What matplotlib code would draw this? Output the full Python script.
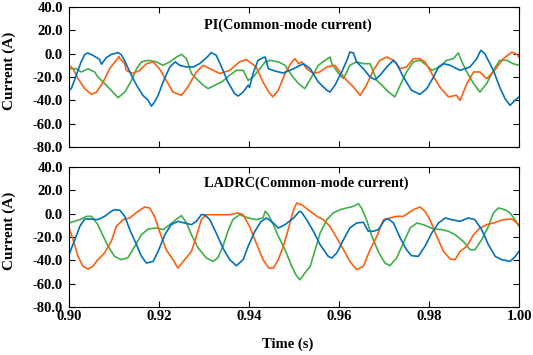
import matplotlib
matplotlib.use("Agg")
import matplotlib.pyplot as plt

plt.rcParams['font.family'] = ['Liberation Serif', 'DejaVu Serif']
plt.rcParams['font.weight'] = 'bold'

# ------------------------------------------------------------
# Datos (tiempo en s, corriente en A)
# ------------------------------------------------------------
# Panel superior: PI
pi_blue_t = [0.9000, 0.9005, 0.9016, 0.9027, 0.9035, 0.9042, 0.9053, 0.9068, 0.9072, 0.9076, 0.9083,
             0.9094, 0.9109, 0.9116, 0.9124, 0.9135, 0.9150, 0.9164, 0.9176, 0.9183, 0.9190, 0.9198,
             0.9209, 0.9224, 0.9236, 0.9246, 0.9261, 0.9276, 0.9290, 0.9307, 0.9316, 0.9327, 0.9339,
             0.9353, 0.9368, 0.9376, 0.9387, 0.9398, 0.9401, 0.9409, 0.9420, 0.9431, 0.9436, 0.9443,
             0.9458, 0.9476, 0.9499, 0.9521, 0.9536, 0.9554, 0.9573, 0.9580, 0.9591, 0.9606, 0.9619,
             0.9624, 0.9632, 0.9639, 0.9654, 0.9669, 0.9680, 0.9691, 0.9706, 0.9721, 0.9728, 0.9743,
             0.9761, 0.9780, 0.9795, 0.9810, 0.9821, 0.9832, 0.9847, 0.9869, 0.9891, 0.9906, 0.9915,
             0.9924, 0.9943, 0.9957, 0.9969, 0.9980, 0.9991, 1.0000]
pi_blue = [-31.4, -30.0, -18.6, -7.0, -0.6, 0.6, -1.4, -5.0, -9.0, -7.0, -3.4,
           -0.6, 0.9, -0.9, -6.3, -15.7, -27.0, -35.7, -40.0, -45.0, -41.4, -35.7,
           -24.3, -11.4, -7.0, -10.0, -11.4, -11.4, -8.6, -2.9, 0.9, -1.4, -11.4,
           -24.3, -34.3, -36.3, -32.9, -27.0, -29.0, -17.0, -5.7, -3.4, -2.9, -12.9,
           -14.9, -16.6, -12.9, -8.6, -12.9, -24.3, -31.4, -32.9, -27.0, -15.7, -4.3,
           1.4, 0.6, -7.0, -12.9, -20.0, -22.3, -18.6, -11.4, -5.7, -8.6, -20.0,
           -31.4, -34.9, -30.0, -20.0, -11.4, -8.6, -10.0, -14.3, -11.4, -4.3, 2.9,
           0.0, -14.3, -28.6, -38.6, -44.3, -40.0, -37.0]

pi_orange_t = [0.9000, 0.9009, 0.9020, 0.9035, 0.9050, 0.9061, 0.9076, 0.9090, 0.9105, 0.9111, 0.9113,
               0.9124, 0.9127, 0.9142, 0.9157, 0.9172, 0.9187, 0.9201, 0.9216, 0.9231, 0.9250, 0.9264,
               0.9283, 0.9298, 0.9313, 0.9335, 0.9357, 0.9379, 0.9394, 0.9416, 0.9431, 0.9444, 0.9453,
               0.9465, 0.9480, 0.9495, 0.9502, 0.9510, 0.9517, 0.9528, 0.9543, 0.9557, 0.9573, 0.9591,
               0.9602, 0.9617, 0.9632, 0.9647, 0.9661, 0.9676, 0.9691, 0.9706, 0.9721, 0.9736, 0.9750,
               0.9765, 0.9780, 0.9791, 0.9806, 0.9824, 0.9843, 0.9861, 0.9869, 0.9884, 0.9899, 0.9913,
               0.9928, 0.9943, 0.9965, 0.9984, 0.9995, 1.0000]
pi_orange = [-10.0, -12.9, -21.4, -30.0, -34.9, -32.9, -24.3, -12.9, -5.7, -2.5, -4.3,
             -8.6, -14.3, -17.0, -14.3, -8.6, -7.0, -12.9, -22.9, -32.9, -35.7, -28.6,
             -15.7, -10.0, -12.9, -17.0, -14.3, -7.0, -5.0, -11.4, -24.3, -33.0, -37.0,
             -31.4, -17.0, -7.0, -4.3, -8.6, -7.0, -12.9, -17.0, -15.7, -11.4, -10.0,
             -15.7, -22.9, -28.6, -35.7, -27.0, -14.3, -5.7, -2.9, -5.7, -12.9, -11.4,
             -4.3, -4.3, -7.0, -17.0, -28.6, -37.0, -35.7, -40.0, -25.7, -15.7, -15.7,
             -21.4, -15.7, -4.3, 1.4, -0.6, -2.9]

pi_green_t = [0.9000, 0.9016, 0.9027, 0.9042, 0.9057, 0.9064, 0.9076, 0.9090, 0.9109, 0.9124, 0.9139,
              0.9150, 0.9161, 0.9176, 0.9194, 0.9209, 0.9224, 0.9239, 0.9250, 0.9261, 0.9272, 0.9283,
              0.9298, 0.9309, 0.9324, 0.9339, 0.9357, 0.9372, 0.9387, 0.9398, 0.9409, 0.9424, 0.9436,
              0.9447, 0.9465, 0.9480, 0.9495, 0.9510, 0.9524, 0.9539, 0.9554, 0.9569, 0.9580, 0.9584,
              0.9599, 0.9610, 0.9624, 0.9639, 0.9654, 0.9669, 0.9684, 0.9699, 0.9710, 0.9724, 0.9736,
              0.9750, 0.9765, 0.9780, 0.9795, 0.9806, 0.9824, 0.9839, 0.9854, 0.9865, 0.9873, 0.9884,
              0.9899, 0.9913, 0.9928, 0.9943, 0.9957, 0.9973, 0.9987, 1.0000]
pi_green = [-12.9, -12.9, -15.7, -12.9, -15.7, -20.0, -24.3, -30.0, -37.7, -32.9, -22.9,
            -12.9, -7.0, -5.7, -7.0, -10.0, -7.0, -2.9, -0.6, -4.3, -17.0, -21.4,
            -27.0, -30.0, -27.0, -24.3, -18.6, -14.3, -14.3, -22.9, -20.0, -13.0, -7.0,
            -5.7, -7.0, -10.0, -18.6, -25.7, -30.0, -20.0, -10.0, -5.7, -2.9, -8.6,
            -17.0, -21.4, -10.0, -7.0, -8.6, -8.6, -22.9, -28.6, -32.9, -37.0, -27.0,
            -15.7, -7.0, -5.7, -10.0, -14.3, -11.4, -5.7, -4.3, 0.6, -7.0, -15.7,
            -25.7, -32.9, -25.7, -14.3, -5.7, -5.7, -8.6, -10.0]

# Panel inferior: LADRC
ladrc_blue_t = [0.9000, 0.9013, 0.9024, 0.9035, 0.9050, 0.9064, 0.9079, 0.9094, 0.9101, 0.9113, 0.9124,
                0.9135, 0.9150, 0.9161, 0.9172, 0.9187, 0.9198, 0.9213, 0.9227, 0.9242, 0.9257, 0.9272,
                0.9283, 0.9294, 0.9301, 0.9313, 0.9327, 0.9342, 0.9357, 0.9372, 0.9387, 0.9398, 0.9413,
                0.9427, 0.9439, 0.9454, 0.9465, 0.9480, 0.9499, 0.9512, 0.9517, 0.9528, 0.9543, 0.9558,
                0.9576, 0.9584, 0.9595, 0.9610, 0.9624, 0.9639, 0.9654, 0.9665, 0.9676, 0.9687, 0.9702,
                0.9710, 0.9721, 0.9736, 0.9750, 0.9761, 0.9776, 0.9791, 0.9806, 0.9821, 0.9836, 0.9850,
                0.9869, 0.9887, 0.9902, 0.9917, 0.9932, 0.9947, 0.9961, 0.9980, 0.9991, 1.0000]
ladrc_blue = [-35.0, -22.3, -10.9, -4.6, -4.6, -5.1, -2.3, 2.0, 3.4, 2.9, -2.3,
              -13.7, -26.6, -36.6, -42.3, -40.9, -32.3, -18.0, -9.4, -6.6, -8.0, -9.4,
              -6.6, -0.9, -0.9, -5.1, -16.6, -29.4, -39.4, -44.6, -39.4, -28.0, -15.1,
              -6.6, -3.7, -8.0, -12.3, -9.4, -3.7, 2.0, 1.1, -5.1, -15.1, -26.6,
              -36.6, -38.0, -33.7, -22.3, -12.3, -8.0, -7.4, -15.1, -15.1, -13.7, -5.1,
              -4.6, -8.0, -20.9, -30.9, -36.0, -36.6, -28.0, -16.6, -8.0, -3.7, -5.1,
              -6.6, -3.7, -5.1, -13.7, -26.6, -36.6, -39.4, -40.9, -37.0, -32.3]

ladrc_orange_t = [0.9000, 0.9009, 0.9020, 0.9031, 0.9042, 0.9053, 0.9064, 0.9079, 0.9094, 0.9105, 0.9120,
                  0.9135, 0.9153, 0.9168, 0.9179, 0.9190, 0.9201, 0.9216, 0.9231, 0.9242, 0.9257, 0.9272,
                  0.9283, 0.9294, 0.9305, 0.9320, 0.9335, 0.9357, 0.9376, 0.9387, 0.9401, 0.9416, 0.9431,
                  0.9444, 0.9454, 0.9465, 0.9476, 0.9487, 0.9499, 0.9506, 0.9517, 0.9536, 0.9551, 0.9565,
                  0.9580, 0.9595, 0.9610, 0.9624, 0.9639, 0.9654, 0.9669, 0.9684, 0.9699, 0.9713, 0.9728,
                  0.9743, 0.9765, 0.9780, 0.9791, 0.9802, 0.9817, 0.9832, 0.9847, 0.9858, 0.9869, 0.9884,
                  0.9899, 0.9913, 0.9928, 0.9943, 0.9965, 0.9984, 1.0000]
ladrc_orange = [-12.3, -22.3, -36.6, -45.1, -47.4, -45.1, -39.4, -33.7, -23.7, -10.9, -5.1,
                -3.7, 2.0, 5.7, 4.9, -2.3, -15.1, -30.9, -39.4, -46.6, -39.4, -32.3,
                -19.4, -5.1, -0.9, -0.9, -0.9, -0.9, 0.6, -0.9, -10.9, -25.1, -39.4,
                -46.6, -46.6, -39.4, -28.0, -13.7, 3.4, 9.1, 7.7, 2.0, -2.3, -5.1,
                -10.9, -20.9, -30.9, -40.9, -48.0, -45.1, -30.9, -19.4, -5.1, -3.7, -2.3,
                -2.3, 3.4, 5.7, 2.0, -5.1, -19.4, -32.3, -38.9, -39.4, -32.3, -28.0,
                -18.0, -12.3, -9.4, -8.0, -5.1, -4.6, -9.4]

ladrc_green_t = [0.9000, 0.9024, 0.9039, 0.9050, 0.9064, 0.9076, 0.9087, 0.9101, 0.9116, 0.9131, 0.9146,
                 0.9161, 0.9176, 0.9194, 0.9209, 0.9224, 0.9239, 0.9250, 0.9261, 0.9272, 0.9287, 0.9305,
                 0.9320, 0.9331, 0.9342, 0.9353, 0.9364, 0.9379, 0.9398, 0.9416, 0.9431, 0.9436, 0.9443,
                 0.9454, 0.9465, 0.9480, 0.9495, 0.9506, 0.9513, 0.9524, 0.9536, 0.9547, 0.9558, 0.9573,
                 0.9587, 0.9602, 0.9617, 0.9632, 0.9643, 0.9650, 0.9661, 0.9673, 0.9687, 0.9702, 0.9713,
                 0.9728, 0.9743, 0.9758, 0.9773, 0.9787, 0.9810, 0.9828, 0.9843, 0.9858, 0.9876, 0.9891,
                 0.9902, 0.9917, 0.9932, 0.9943, 0.9954, 0.9969, 0.9980, 0.9991, 1.0000]
ladrc_green = [-8.0, -5.1, -2.3, -2.3, -9.4, -19.4, -28.0, -36.6, -39.4, -37.7, -28.0,
               -18.0, -13.1, -12.3, -13.7, -9.4, -4.6, -1.7, -8.0, -18.0, -29.4, -38.0,
               -40.9, -37.7, -28.0, -15.1, -5.1, -0.9, -3.7, -5.1, -3.7, 2.0, -0.9,
               -9.4, -19.4, -30.9, -45.1, -53.7, -56.6, -50.9, -45.1, -30.9, -16.6, -5.1,
               0.6, 3.4, 4.9, 6.3, 8.6, 4.9, -5.1, -19.4, -32.3, -42.3, -44.6,
               -38.0, -25.1, -12.3, -8.0, -9.4, -13.1, -13.7, -15.1, -18.0, -23.7, -30.9,
               -30.9, -22.3, -10.9, 0.6, 4.9, 3.4, 0.6, -5.1, -10.9]

titulos = ["PI(Common-mode current)", "LADRC(Common-mode current)"]
x_ticks = [0.90, 0.92, 0.94, 0.96, 0.98, 1.00]
y_ticks = [40, 20, 0, -20, -40, -60, -80]

color_azul = '#0072BD'
color_naranja = '#FF5F0F'
color_verde = '#3DB048'

fig = plt.figure(figsize=(5.33, 3.55), dpi=100)
ax1 = fig.add_axes([0.1295, 0.5859, 0.8443, 0.3944])
ax2 = fig.add_axes([0.1295, 0.1352, 0.8443, 0.3944])

paneles = [
    (ax1, pi_blue_t, pi_blue, pi_orange_t, pi_orange, pi_green_t, pi_green, titulos[0], (0.487, 0.871)),
    (ax2, ladrc_blue_t, ladrc_blue, ladrc_orange_t, ladrc_orange, ladrc_green_t, ladrc_green, titulos[1], (0.527, 0.886)),
]

for ax, bt, b, ot, o, gt, g, titulo, pos in paneles:
    ax.plot(gt, g, color=color_verde, lw=1.2)
    ax.plot(ot, o, color=color_naranja, lw=1.2)
    ax.plot(bt, b, color=color_azul, lw=1.2)
    ax.set_xlim(0.90, 1.00)
    ax.set_ylim(-80, 40)
    ax.set_xticks(x_ticks)
    ax.set_yticks(y_ticks)
    ax.set_yticklabels([f"{v:.1f}" for v in y_ticks])
    ax.tick_params(direction='in', top=True, right=True, length=4, width=0.8,
                   labelsize=10.5, pad=3)
    ax.tick_params(axis='y', pad=4.5)
    ax.set_ylabel("Current (A)", fontsize=11, fontweight='bold')
    ax.yaxis.set_label_coords(-0.118, 0.543)
    ax.text(pos[0], pos[1], titulo, transform=ax.transAxes, ha='center', va='center',
            fontsize=10.3, fontweight='bold')
    for s in ax.spines.values():
        s.set_linewidth(0.8)

ax1.set_xticklabels([])
ax2.set_xticklabels([f"{v:.2f}" for v in x_ticks])
ax2.tick_params(axis='x', pad=2.5)
ax2.set_xlabel("Time (s)", fontsize=10.5, fontweight='bold')
ax2.xaxis.set_label_coords(0.487, -0.215)

fig.savefig("out.png", dpi=100)
